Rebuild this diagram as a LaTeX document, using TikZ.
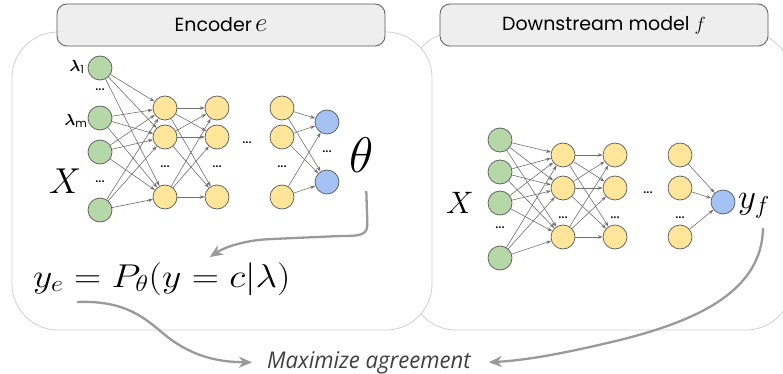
\RequirePackage{fix-cm}
\documentclass[tikz,border=0pt]{standalone}
\usepackage{amsmath}
\usepackage{bm}
\usepackage{fontspec}
\setsansfont{Poppins}
\newfontfamily\agreefont[FakeStretch=0.96]{Open Sans}
\usetikzlibrary{arrows.meta}
\definecolor{ingreen}{HTML}{B6D7A8}
\definecolor{hidyellow}{HTML}{FFE599}
\definecolor{outblue}{HTML}{A4C2F4}
\definecolor{ringgray}{HTML}{595959}
\definecolor{edgegray}{HTML}{707070}
\definecolor{panelgray}{HTML}{D0D0D0}
\definecolor{tabfill}{HTML}{EEEEEE}
\definecolor{curvegray}{HTML}{9A9A9A}
\tikzset{
  neuron/.style={circle, draw=ringgray, line width=0.7pt,
    minimum size=24pt, inner sep=0pt},
  inp/.style={neuron, fill=ingreen},
  hid/.style={neuron, fill=hidyellow},
  outp/.style={neuron, fill=outblue},
  edge/.style={draw=edgegray, line width=0.6pt,
    -{Stealth[length=5pt,width=3.5pt]}},
  panel/.style={draw=panelgray, line width=0.8pt, fill=white,
    rounded corners=46pt},
  tab/.style={draw=ringgray, fill=tabfill, line width=0.8pt,
    rounded corners=10pt, minimum width=328pt, minimum height=42pt,
    font=\sffamily\fontsize{19}{22}\selectfont},
  vdots/.style={font=\sffamily\fontsize{15}{15}\selectfont, inner sep=0pt},
  bigmath/.style={anchor=base west, inner sep=0pt},
  curvearrow/.style={draw=curvegray, line width=2.3pt,
    -{Stealth[length=13pt,width=11pt,inset=4pt]}},
}

\begin{document}
\begin{tikzpicture}[x=1pt,y=-1pt]
\useasboundingbox (0,0) rectangle (783,374);
\draw[panel]
  (410,32) rectangle (792,330);
\draw[panel]
  (12,32) rectangle (432,330);
\node[tab] (enctab) at (221,25)
  {Encoder\,{\fontsize{27}{27}\selectfont$e$}};
\node[tab] (dstab) at (604,25)
  {Downstream model $f$};
% encoder e
\foreach \n/\y in {1/68,2/118,3/152,4/210}
  \node[inp] (ein\n) at (100,\y) {};
\foreach \col/\x in {a/165,b/217,c/282}
  \foreach \n/\y in {1/108,2/137,3/197}
    \node[hid] (e\col\n) at (\x,\y) {};
\foreach \n/\y in {1/122,2/182}
  \node[outp] (eout\n) at (327,\y) {};
\foreach \n/\x/\y in {1/100/90,2/100/182,3/165/167,4/217/167,
    5/247/143,6/282/167,7/327/152}
  \node[vdots] (edots\n) at (\x,\y) {...};
\foreach \i in {1,...,4}
  \foreach \j in {1,2,3}
    \draw[edge] (ein\i) -- (ea\j);
\foreach \i in {1,2,3}
  \foreach \j in {1,2,3}
    \draw[edge] (ea\i) -- (eb\j);
\foreach \i in {1,2,3}
  \foreach \j in {1,2}
    \draw[edge] (ec\i) -- (eout\j);
\node[font=\fontsize{16}{16}\selectfont, inner sep=0pt] (lamone) at (77,67)
  {$\boldsymbol{\lambda}_{\textsf{1}}$};
\node[font=\fontsize{16}{16}\selectfont, inner sep=0pt] (lamm) at (76,121)
  {$\boldsymbol{\lambda}_{\textsf{m}}$};
\node[bigmath, font=\fontsize{36}{36}\selectfont] (encx) at (49,193) {$X$};
\node[bigmath, font=\fontsize{50}{50}\selectfont] (theta) at (349,172)
  {$\theta$};
\node[bigmath, font=\fontsize{33}{33}\selectfont] (ye) at (33,287)
  {\scalebox{1.14}[1]{$y_e = P_\theta(y=c|\lambda)$}};
% downstream f
\foreach \n/\y in {1/140,2/172,3/203,4/258}
  \node[inp] (din\n) at (500,\y) {};
\foreach \col/\x in {a/563,b/615,c/680}
  \foreach \n/\y in {1/155,2/188,3/237}
    \node[hid] (d\col\n) at (\x,\y) {};
\node[outp] (dout) at (723,202) {};
\foreach \n/\x/\y in {1/500/228,2/563/218,3/615/218,4/648/193,5/680/218}
  \node[vdots] (ddots\n) at (\x,\y) {...};
\foreach \i in {1,...,4}
  \foreach \j in {1,2,3}
    \draw[edge] (din\i) -- (da\j);
\foreach \i in {1,2,3}
  \foreach \j in {1,2,3}
    \draw[edge] (da\i) -- (db\j);
\foreach \i in {1,2,3}
  \draw[edge] (dc\i) -- (dout);
\node[bigmath, font=\fontsize{31}{31}\selectfont] (dsx) at (446,213) {$X$};
\node[bigmath, font=\fontsize{35}{35}\selectfont] (yf) at (738,208)
  {$y_f$};
\node[bigmath, text=black!75, font=\agreefont\itshape\fontsize{23}{26}\selectfont]
  (agree) at (267,368) {Maximize agreement};
\draw[curvearrow]
  ([shift={(5,19)}]theta.south) -- ++(1,30)
  .. controls +(1,14) and (362,236) .. (340,236) -- (272,239)
  .. controls (245,240) and (225,247) .. ([shift={(48,-5)}]ye.north);
\draw[curvearrow]
  ([shift={(44,15)}]ye.base west)
  .. controls (125,300) and (145,318) .. (165,335)
  .. controls (190,355) and (215,362) .. ([shift={(-15,0)}]agree.west);
\draw[curvearrow]
  ([shift={(25,20)}]yf.base west)
  .. controls (762,290) and (700,320) .. (620,340)
  .. controls (570,352) and (530,360) .. ([shift={(18,0)}]agree.east);
\end{tikzpicture}
\end{document}
